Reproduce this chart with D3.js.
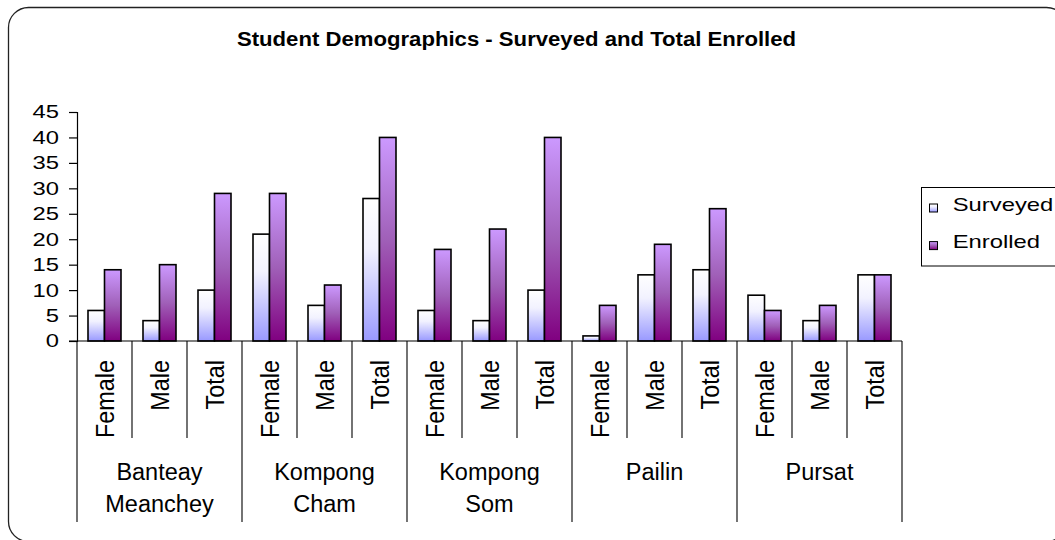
<!DOCTYPE html>
<html>
<head>
<meta charset="utf-8">
<script src="https://cdn.jsdelivr.net/npm/d3@7"></script>
<style>
  html, body { margin: 0; padding: 0; background: #fff; }
  svg { display: block; font-family: "Liberation Sans", Arial, sans-serif; }
</style>
</head>
<body>
<svg id="chart" width="1055" height="540"></svg>
<script>
// Provinces and the sub-groups shown under each
const provinces = [["Banteay", "Meanchey"], ["Kompong", "Cham"], ["Kompong", "Som"], ["Pailin"], ["Pursat"]];
const subgroups = ["Female", "Male", "Total"];
const seriesNames = ["Surveyed", "Enrolled"];

// Student counts, in province order, Female / Male / Total for each
const surveyed = [6, 4, 10, 21, 7, 28, 6, 4, 10, 1, 13, 14, 9, 4, 13];
const enrolled = [14, 15, 29, 29, 11, 40, 18, 22, 40, 7, 19, 26, 6, 7, 13];

const yTicks = [0, 5, 10, 15, 20, 25, 30, 35, 40, 45];

const svg = d3.select("#chart");
const FONT = "Liberation Sans, Arial, sans-serif";
const WIDE = 1.28; // horizontal stretch used for the wide-set labels

// Gradients for the two series (per bar, top to bottom)
const defs = svg.append("defs");
function grad(id, stops) {
  const g = defs.append("linearGradient").attr("id", id)
    .attr("x1", 0).attr("y1", 0).attr("x2", 0).attr("y2", 1);
  stops.forEach(([o, c]) => g.append("stop").attr("offset", o).attr("stop-color", c));
}
grad("gSurveyed", [[0, "#ffffff"], [0.35, "#f2f2ff"], [1, "#9999ff"]]);
grad("gEnrolled", [[0, "#cc99ff"], [0.5, "#a060b8"], [1, "#800080"]]);
const fills = { Surveyed: "url(#gSurveyed)", Enrolled: "url(#gEnrolled)" };

// Outer chart frame
svg.append("rect")
  .attr("x", 8.5).attr("y", 7.5).attr("width", 1058).attr("height", 534)
  .attr("rx", 20).attr("ry", 20)
  .attr("fill", "#fff").attr("stroke", "#222").attr("stroke-width", 1.3);

// Title
svg.append("text")
  .attr("transform", `translate(516.5,45.5) scale(1.08,1)`)
  .attr("text-anchor", "middle")
  .attr("font-weight", "bold").attr("font-size", 20.5)
  .attr("fill", "#000")
  .text("Student Demographics - Surveyed and Total Enrolled");

// Scales
const plot = { left: 77, right: 902, top: 112, bottom: 341 };
const keys = [];
provinces.forEach((p, i) => subgroups.forEach(s => keys.push(i + "|" + s)));
const x0 = d3.scaleBand().domain(keys).range([plot.left, plot.right]).padding(0);
const bw = x0.bandwidth();
const groupW = bw * 0.6;
const x1 = d3.scaleBand().domain(seriesNames)
  .range([(bw - groupW) / 2, (bw + groupW) / 2]).padding(0);
const y = d3.scaleLinear().domain([0, 45]).range([plot.bottom, plot.top]);

// Y axis
const yAxis = svg.append("g")
  .attr("transform", `translate(${plot.left},0)`)
  .call(d3.axisLeft(y).tickValues(yTicks).tickSize(8).tickPadding(11));
yAxis.select(".domain").attr("stroke", "#000").attr("stroke-width", 1.2);
yAxis.selectAll(".tick line").attr("stroke", "#000").attr("stroke-width", 1.2);
yAxis.selectAll(".tick text")
  .attr("font-size", 18.6).attr("fill", "#000")
  .attr("font-family", FONT)
  .attr("x", -18 / WIDE)
  .attr("transform", `scale(${WIDE},1)`);

// Bars
const rows = keys.map((k, i) => ({ key: k, Surveyed: surveyed[i], Enrolled: enrolled[i] }));
const groups = svg.append("g").selectAll("g").data(rows).join("g")
  .attr("transform", d => `translate(${x0(d.key)},0)`);
groups.selectAll("rect")
  .data(d => seriesNames.map(s => ({ s, v: d[s] })))
  .join("rect")
  .attr("x", d => x1(d.s))
  .attr("y", d => y(d.v))
  .attr("width", x1.bandwidth())
  .attr("height", d => y(0) - y(d.v))
  .attr("fill", d => fills[d.s])
  .attr("stroke", "#000").attr("stroke-width", 1.6);

// Category axis baseline
svg.append("line")
  .attr("x1", plot.left - 8).attr("x2", plot.right)
  .attr("y1", plot.bottom).attr("y2", plot.bottom)
  .attr("stroke", "#000").attr("stroke-width", 1.2);

// Separators between sub-groups (short) and provinces (long)
const boundaries = keys.map(k => x0(k)).concat([plot.right]);
svg.append("g").selectAll("line").data(boundaries).join("line")
  .attr("x1", d => d).attr("x2", d => d)
  .attr("y1", plot.bottom)
  .attr("y2", (d, i) => (i % 3 === 0 ? 522 : 438))
  .attr("stroke", "#000").attr("stroke-width", 1.1);

// Rotated sub-group labels
svg.append("g").selectAll("text").data(keys).join("text")
  .attr("transform", d => `translate(${x0(d) + bw / 2 + 9.5},360) rotate(-90) scale(1,1.1)`)
  .attr("text-anchor", "end")
  .attr("font-size", 23.4).attr("fill", "#000")
  .text(d => d.split("|")[1]);

// Province labels
const provW = bw * subgroups.length;
const provG = svg.append("g").selectAll("text").data(provinces).join("text")
  .attr("text-anchor", "middle")
  .attr("font-size", 23.5).attr("fill", "#000")
  .attr("x", (d, i) => plot.left + provW * i + provW / 2)
  .attr("y", 480);
provG.selectAll("tspan").data(d => d).join("tspan")
  .attr("x", function () { return d3.select(this.parentNode).attr("x"); })
  .attr("dy", (d, i) => (i === 0 ? 0 : 32))
  .text(d => d);

// Legend
const lg = svg.append("g").attr("transform", "translate(921.5,187.5)");
lg.append("rect").attr("width", 140).attr("height", 78.5)
  .attr("fill", "#fff").attr("stroke", "#000").attr("stroke-width", 1);
seriesNames.forEach((s, i) => {
  const row = lg.append("g").attr("transform", `translate(0,${i * 37.6})`);
  row.append("rect").attr("x", 8).attr("y", 16.5).attr("width", 8).attr("height", 8)
    .attr("fill", fills[s]).attr("stroke", "#000").attr("stroke-width", 1);
  row.append("text")
    .attr("transform", `translate(31.2,23.2) scale(${WIDE},1)`)
    .attr("font-size", 18.6).attr("fill", "#000").text(s);
});
</script>
</body>
</html>
